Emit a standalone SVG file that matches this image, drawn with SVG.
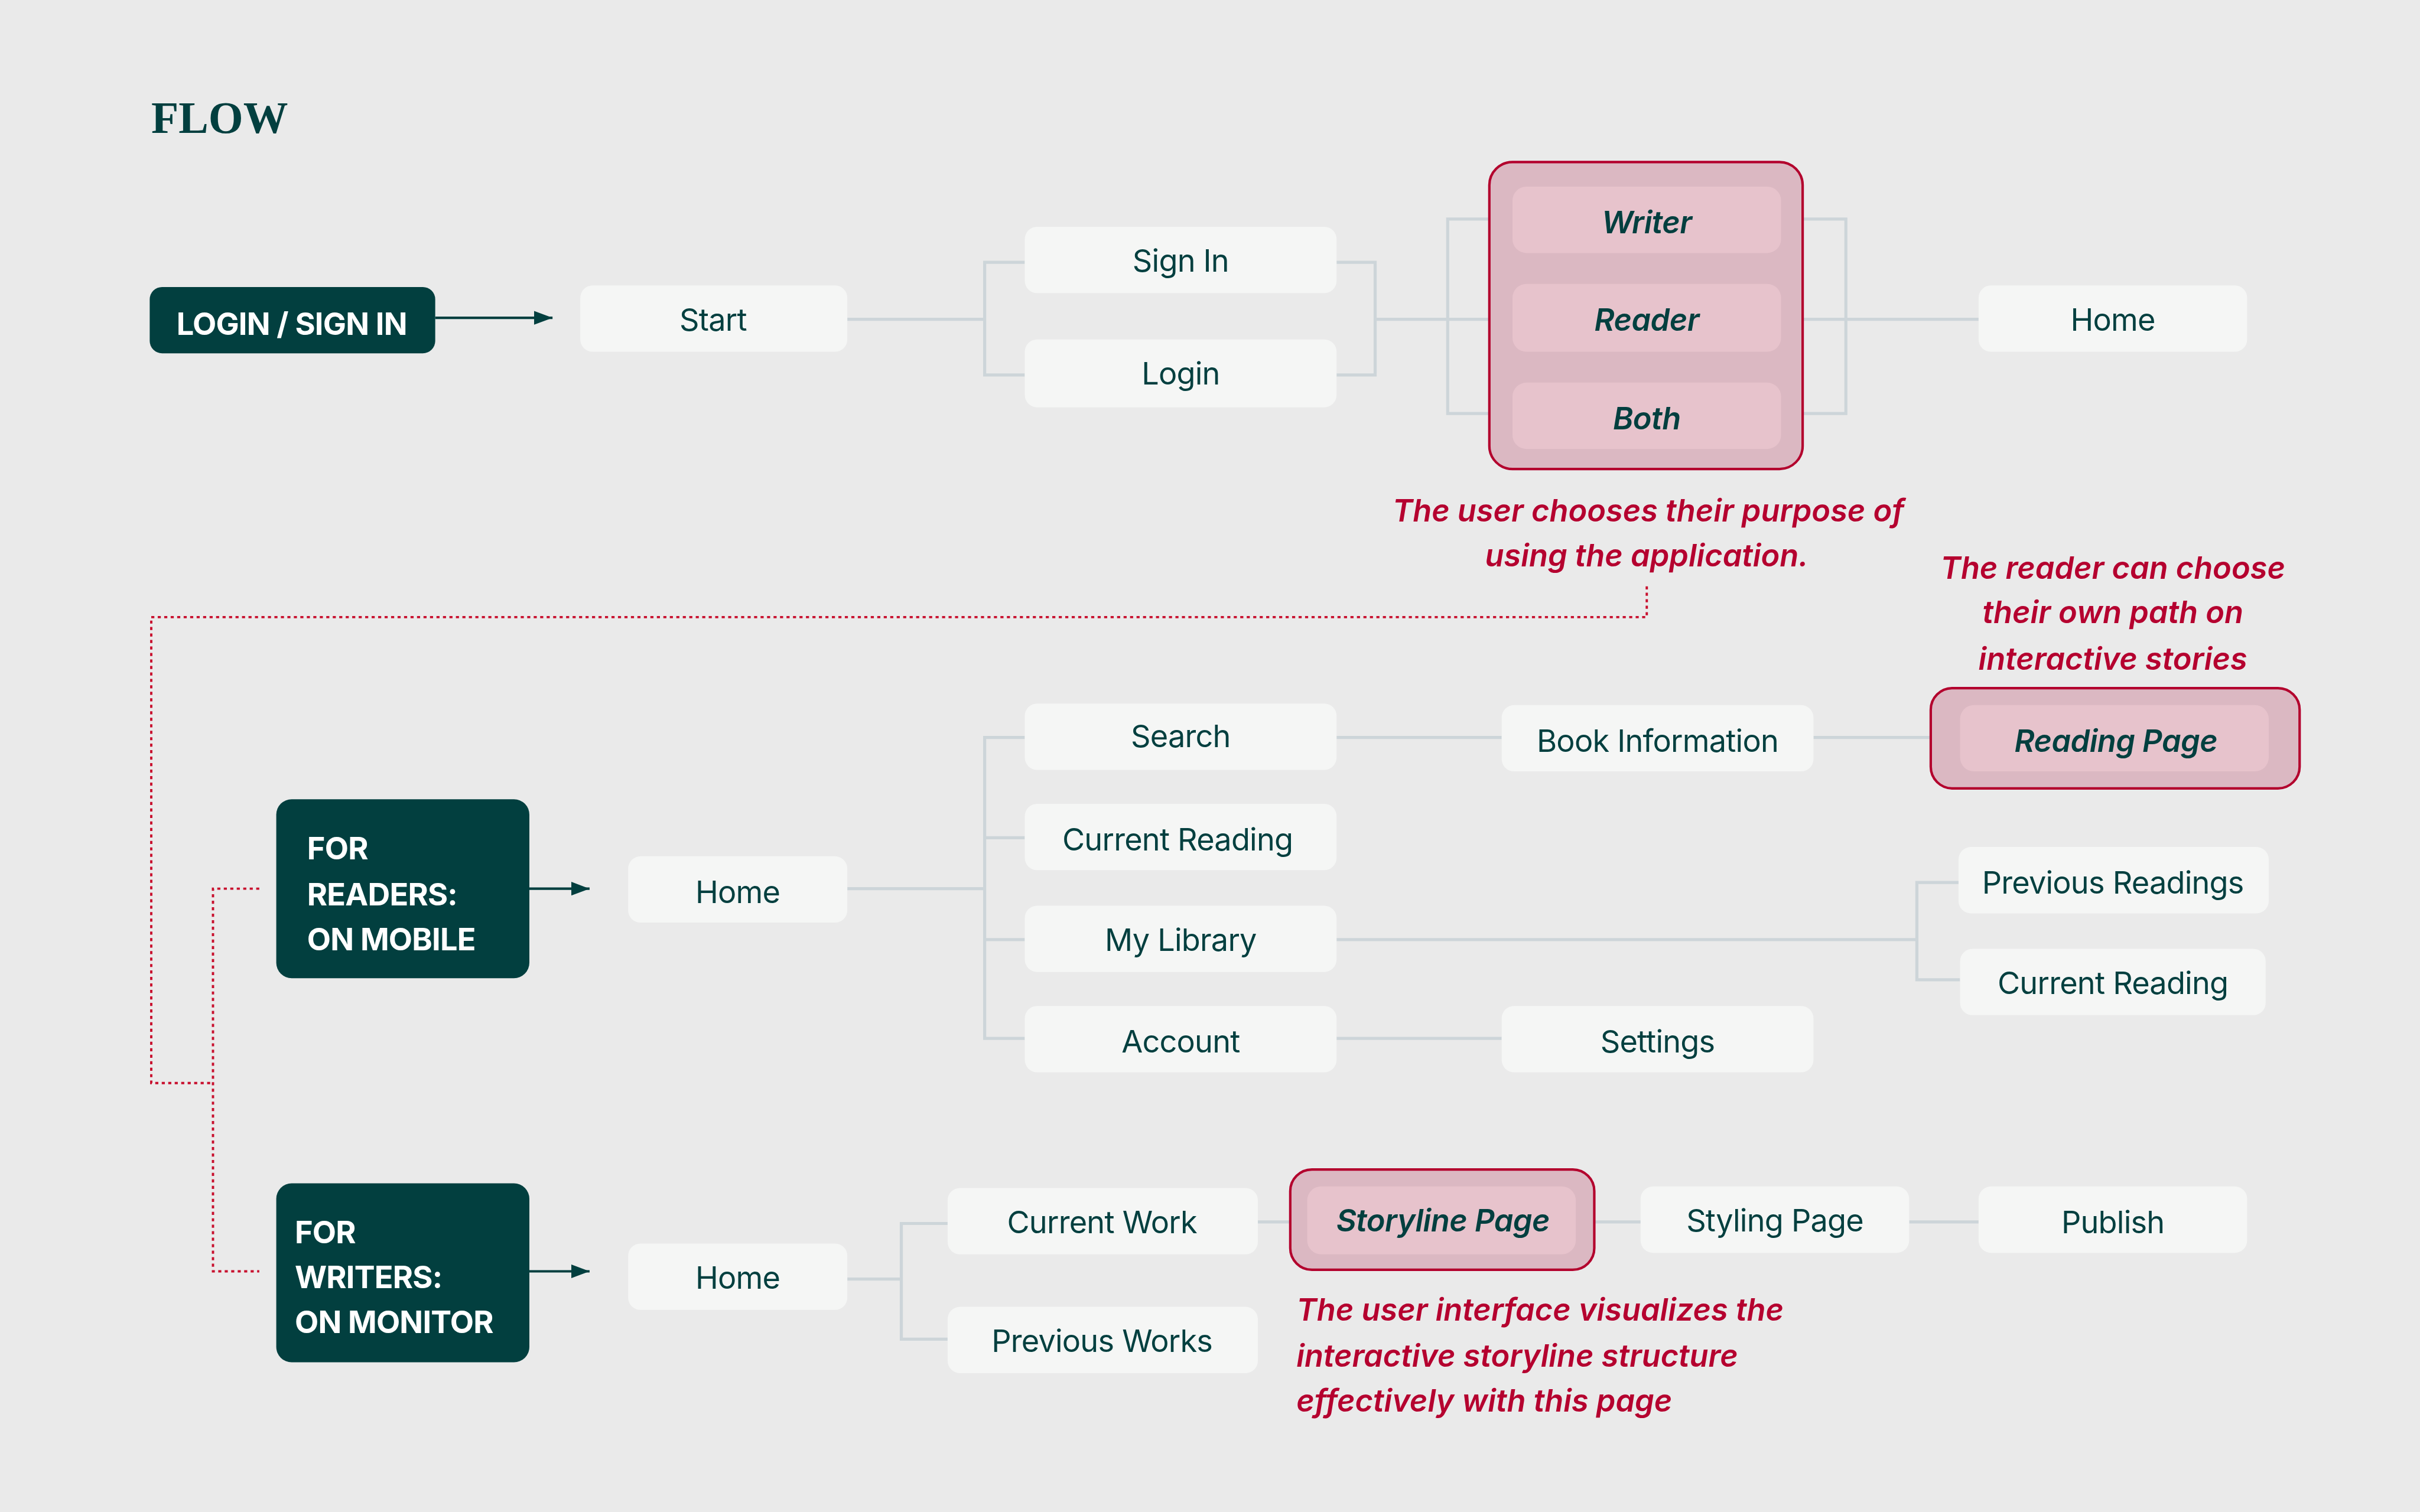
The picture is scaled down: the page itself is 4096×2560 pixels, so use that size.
<svg xmlns="http://www.w3.org/2000/svg" width="4096" height="2560" viewBox="0 0 4096 2560">
<defs>
<style>
.bg{fill:#eaeaea}
.node{fill:#f5f6f5}
.dark{fill:#023f3f}
.grp{fill:#dbb8c2;stroke:#b3002d;stroke-width:1.6}
.inner{fill:#e7c3cc}
.t{font-family:Inter,"Liberation Sans",sans-serif;font-size:20px;fill:#023f3f;text-anchor:middle;dominant-baseline:central;letter-spacing:-0.3px}
.ti{font-family:Inter,"Liberation Sans",sans-serif;font-size:20px;fill:#023f3f;text-anchor:middle;dominant-baseline:central;font-style:italic;font-weight:600;letter-spacing:-0.2px}
.tw{font-family:Inter,"Liberation Sans",sans-serif;font-size:20px;fill:#ffffff;font-weight:700;letter-spacing:-0.3px}
.note{font-family:Inter,"Liberation Sans",sans-serif;font-size:20px;fill:#b5002f;font-style:italic;font-weight:600}
.con{fill:none;stroke:#cdd5d9;stroke-width:2}
.arr{fill:none;stroke:#023f3f;stroke-width:1.6}
.dot{fill:none;stroke:#c8102e;stroke-width:1.5;stroke-dasharray:2 2.2}
</style>
<marker id="ah" viewBox="0 0 12 9" refX="12" refY="4.5" markerWidth="12" markerHeight="9" markerUnits="userSpaceOnUse" orient="auto"><path d="M0,0 L12,4.5 L0,9 z" fill="#023f3f"/></marker>
</defs>
<rect class="bg" x="0" y="0" width="4096" height="2560"/>
<g transform="scale(2.612245)">
<text x="98" y="86" font-family="Liberation Serif,serif" font-weight="bold" font-size="29" fill="#023f3f">FLOW</text>

<g id="connectors">
<path class="arr" d="M282,206 H358" marker-end="url(#ah)"/>
<path class="arr" d="M343,576 H382" marker-end="url(#ah)"/>
<path class="arr" d="M343,824 H382" marker-end="url(#ah)"/>
<path class="con" d="M549,207 H638 M664,170 H638 V243 H664"/>
<path class="con" d="M866,170 H891 V243 H866 M891,207 H980"/>
<path class="con" d="M980,142 H938 V268 H980"/>
<path class="con" d="M1154,142 H1196 V268 H1154 M1154,207 H1282"/>
<path class="con" d="M549,576 H638 M664,478 H638 V673 H664 M638,543 H664 M638,609 H664"/>
<path class="con" d="M866,478 H973 M1175,478 H1270"/>
<path class="con" d="M866,609 H1242 M1270,572 H1242 V635 H1270"/>
<path class="con" d="M866,673 H973"/>
<path class="con" d="M549,829 H584 M614,793 H584 V868 H614"/>
<path class="con" d="M815,792 H847 M1021,792 H1063 M1237,792 H1282"/>
<path class="dot" d="M1067,380 V400 H98 V702 H138"/>
<path class="dot" d="M168,576 H138 V824 H168"/>
</g>

<g id="login"><rect class="dark" x="97" y="186" width="185" height="43" rx="8"/><text class="tw" x="189" y="217" text-anchor="middle">LOGIN / SIGN IN</text></g>
<g id="start"><rect class="node" x="376" y="185" width="173" height="43" rx="8"/><text class="t" x="462" y="207">Start</text></g>
<g id="signin"><rect class="node" x="664" y="147" width="202" height="43" rx="8"/><text class="t" x="765" y="169">Sign In</text></g>
<g id="loginnode"><rect class="node" x="664" y="220" width="202" height="44" rx="8"/><text class="t" x="765" y="242">Login</text></g>
<g id="role"><rect class="grp" x="965" y="105" width="203" height="199" rx="15"/>
<rect class="inner" x="980" y="121" width="174" height="43" rx="9"/><text class="ti" x="1067" y="144">Writer</text>
<rect class="inner" x="980" y="184" width="174" height="44" rx="9"/><text class="ti" x="1067" y="207">Reader</text>
<rect class="inner" x="980" y="248" width="174" height="43" rx="9"/><text class="ti" x="1067" y="271">Both</text></g>
<g id="home1"><rect class="node" x="1282" y="185" width="174" height="43" rx="8"/><text class="t" x="1369" y="207">Home</text></g>
<g id="note1"><text class="note" x="1068" y="338" text-anchor="middle">The user chooses their purpose of</text><text class="note" x="1067" y="367" text-anchor="middle">using the application.</text></g>

<g id="readers"><rect class="dark" x="179" y="518" width="164" height="116" rx="10"/><text class="tw" x="199" y="557">FOR</text><text class="tw" x="199" y="587">READERS:</text><text class="tw" x="199" y="616">ON MOBILE</text></g>
<g id="home2"><rect class="node" x="407" y="555" width="142" height="43" rx="8"/><text class="t" x="478" y="578">Home</text></g>
<g id="search"><rect class="node" x="664" y="456" width="202" height="43" rx="8"/><text class="t" x="765" y="477">Search</text></g>
<g id="curread"><rect class="node" x="664" y="521" width="202" height="43" rx="8"/><text class="t" x="763" y="544">Current Reading</text></g>
<g id="library"><rect class="node" x="664" y="587" width="202" height="43" rx="8"/><text class="t" x="765" y="609">My Library</text></g>
<g id="account"><rect class="node" x="664" y="652" width="202" height="43" rx="8"/><text class="t" x="765" y="675">Account</text></g>
<g id="bookinfo"><rect class="node" x="973" y="457" width="202" height="43" rx="8"/><text class="t" x="1074" y="480">Book Information</text></g>
<g id="settings"><rect class="node" x="973" y="652" width="202" height="43" rx="8"/><text class="t" x="1074" y="675">Settings</text></g>
<g id="readingpage"><rect class="grp" x="1251" y="446" width="239" height="65" rx="14"/><rect class="inner" x="1270" y="457" width="200" height="43" rx="9"/><text class="ti" x="1371" y="480">Reading Page</text></g>
<g id="note2"><text class="note" x="1369" y="375" text-anchor="middle">The reader can choose</text><text class="note" x="1369" y="404" text-anchor="middle">their own path on</text><text class="note" x="1369" y="434" text-anchor="middle">interactive stories</text></g>
<g id="prevread"><rect class="node" x="1269" y="549" width="201" height="43" rx="8"/><text class="t" x="1369" y="572">Previous Readings</text></g>
<g id="curread2"><rect class="node" x="1270" y="615" width="198" height="43" rx="8"/><text class="t" x="1369" y="637">Current Reading</text></g>

<g id="writers"><rect class="dark" x="179" y="767" width="164" height="116" rx="10"/><text class="tw" x="191" y="806">FOR</text><text class="tw" x="191" y="835">WRITERS:</text><text class="tw" x="191" y="864">ON MONITOR</text></g>
<g id="home3"><rect class="node" x="407" y="806" width="142" height="43" rx="8"/><text class="t" x="478" y="828">Home</text></g>
<g id="curwork"><rect class="node" x="614" y="770" width="201" height="43" rx="8"/><text class="t" x="714" y="792">Current Work</text></g>
<g id="prevworks"><rect class="node" x="614" y="847" width="201" height="43" rx="8"/><text class="t" x="714" y="869">Previous Works</text></g>
<g id="storyline"><rect class="grp" x="836" y="758" width="197" height="65" rx="14"/><rect class="inner" x="847" y="769" width="174" height="44" rx="9"/><text class="ti" x="935" y="791">Storyline Page</text></g>
<g id="styling"><rect class="node" x="1063" y="769" width="174" height="43" rx="8"/><text class="t" x="1150" y="791">Styling Page</text></g>
<g id="publish"><rect class="node" x="1282" y="769" width="174" height="43" rx="8"/><text class="t" x="1369" y="792">Publish</text></g>
<g id="note3"><text class="note" x="840" y="856">The user interface visualizes the</text><text class="note" x="840" y="886">interactive storyline structure</text><text class="note" x="840" y="915">effectively with this page</text></g>
</g>
</svg>
